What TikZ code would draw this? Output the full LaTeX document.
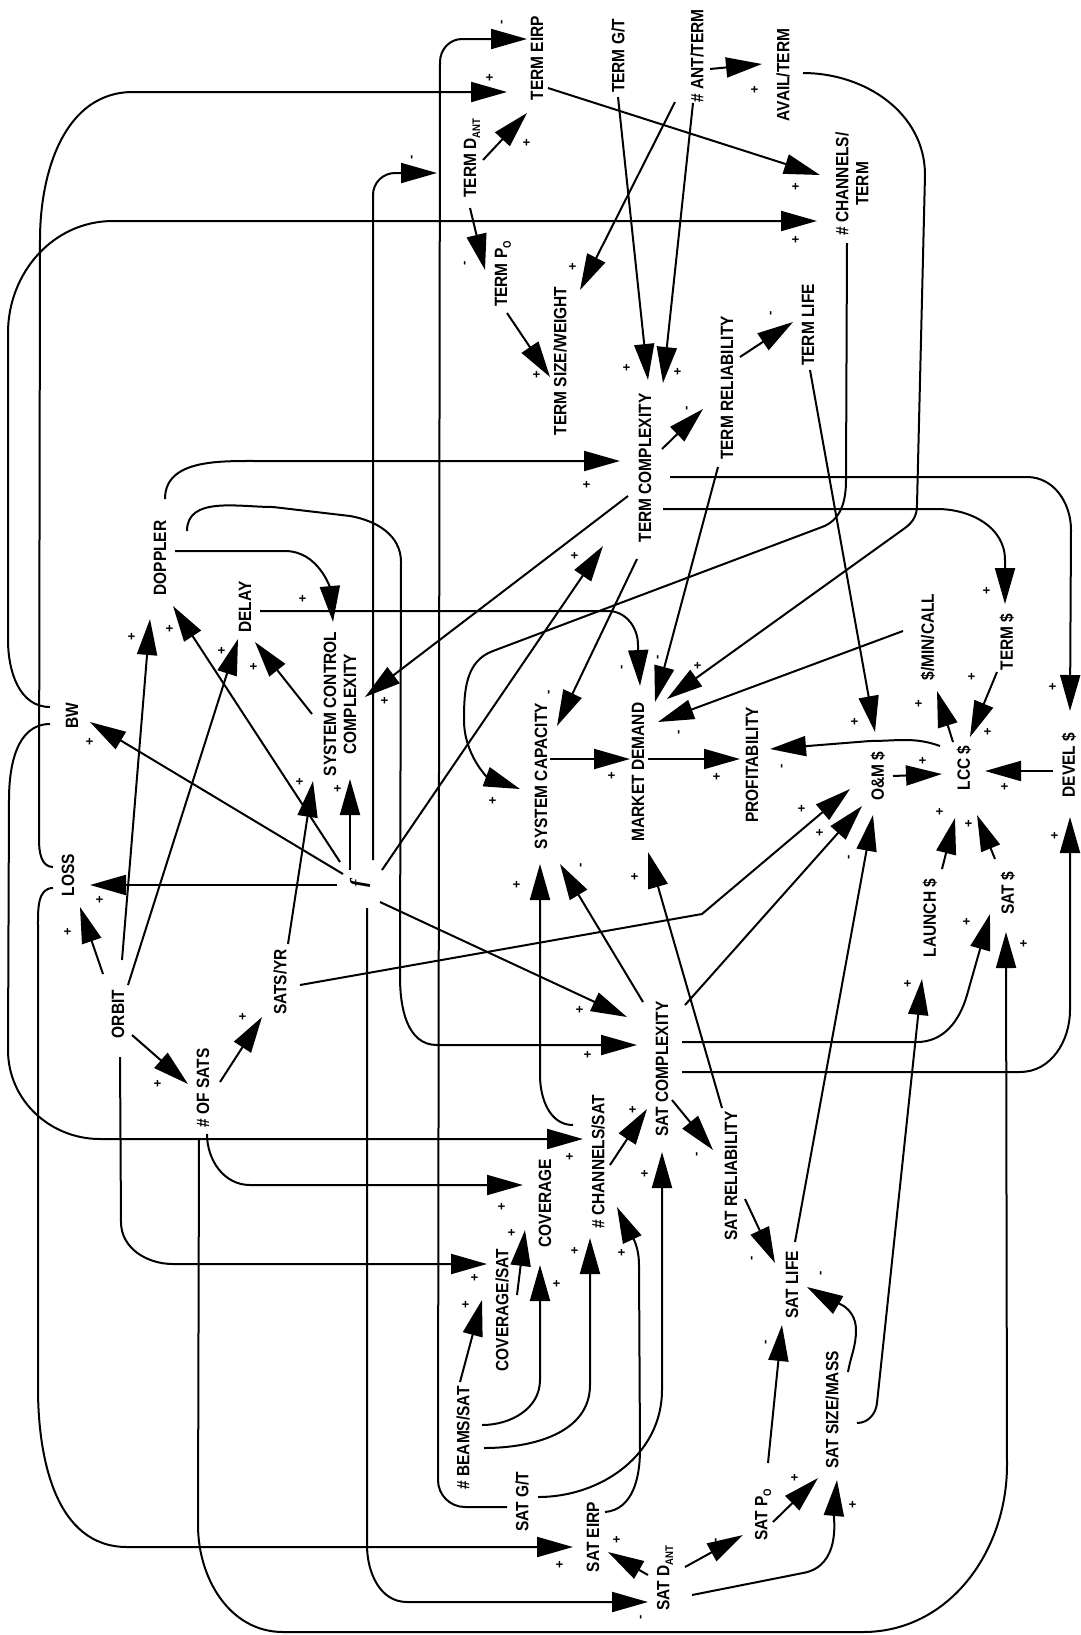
\documentclass[tikz,border=0pt]{standalone}
\usepackage{fontspec}
\setmainfont{Liberation Sans}
\newfontfamily\lblfam{Liberation Sans}[FakeStretch=0.87]
\newfontfamily\serifit{Liberation Serif}
\usetikzlibrary{arrows.meta}
\newcommand\lblfont{\lblfam\bfseries\fontsize{8.9}{10}\selectfont}
\newcommand\sgnfont{\bfseries\fontsize{6.5}{6.5}\selectfont}
\newcommand\sbx[1]{\raisebox{-0.4ex}{\fontsize{5.5}{5.5}\selectfont #1}}
\begin{document}
\begin{tikzpicture}[x=0.5pt,y=-0.5pt,
  lbl/.style={rotate=90,font=\lblfont,inner sep=1pt,align=center},
  sgn/.style={rotate=90,font=\sgnfont,inner sep=0pt},
  arr/.style={line width=1pt,-{Triangle[length=18pt,width=10pt]}}]
\fill[white] (0,0) rectangle (1081,1635);
\useasboundingbox (0,0) rectangle (1081,1635);
% ---------- nodes
\node[lbl] (teirp) at (537,58) {TERM EIRP};
\node[lbl] (tgt) at (618,56) {TERM G/T};
\node[lbl] (nant) at (697,56) {\# ANT/TERM};
\node[lbl] (avail) at (783,75) {AVAIL/TERM};
\node[lbl] (tdant) at (472,158) {TERM D\sbx{ANT}};
\node[lbl] (tpo) at (503,274) {TERM P\sbx{O}};
\node[lbl] (tsize) at (560,361) {TERM SIZE/WEIGHT};
\node[lbl] (nchterm) at (852,184) {\# CHANNELS/\\TERM};
\node[lbl] (tlife) at (808,325) {TERM LIFE};
\node[lbl] (trel) at (727,388) {TERM RELIABILITY};
\node[lbl] (tcomp) at (645,468) {TERM COMPLEXITY};
\node[lbl] (doppler) at (160,558) {DOPPLER};
\node[lbl] (delay) at (245,607) {DELAY};
\node[lbl] (scc) at (340,704) {SYSTEM CONTROL\\COMPLEXITY};
\node[lbl] (bw) at (72,716) {BW};
\node[lbl] (tdol) at (1007,642) {TERM \$};
\node[lbl] (minc) at (928,637) {\$/MIN/CALL};
\node[lbl] (syscap) at (541,776) {SYSTEM CAPACITY};
\node[lbl] (mdem) at (638,772) {MARKET DEMAND};
\node[lbl] (profit) at (752,765) {PROFITABILITY};
\node[lbl] (om) at (878,776) {O\&M \$};
\node[lbl] (lcc) at (964,768) {LCC \$};
\node[lbl] (devel) at (1069,765) {DEVEL \$};
\node[lbl] (loss) at (68,875) {LOSS};
\node[lbl,font={\serifit\bfseries\itshape\fontsize{11}{11}\selectfont}] (f) at (360,884) {f};
\node[lbl] (launch) at (930,918) {LAUNCH \$};
\node[lbl] (satdol) at (1008,893) {SAT \$};
\node[lbl] (orbit) at (118,1014) {ORBIT};
\node[lbl] (satsyr) at (280,982) {SATS/YR};
\node[lbl] (nsats) at (203,1088) {\# OF SATS};
\node[lbl] (satcomp) at (662,1069) {SAT COMPLEXITY};
\node[lbl] (nchsat) at (598,1162) {\# CHANNELS/SAT};
\node[lbl] (cov) at (545,1203) {COVERAGE};
\node[lbl] (satrel) at (731,1176) {SAT RELIABILITY};
\node[lbl] (covsat) at (502,1310) {COVERAGE/SAT};
\node[lbl] (beams) at (463,1438) {\# BEAMS/SAT};
\node[lbl] (satgt) at (522,1502) {SAT G/T};
\node[lbl] (sateirp) at (593,1537) {SAT EIRP};
\node[lbl] (satdant) at (665,1578) {SAT D\sbx{ANT}};
\node[lbl] (satpo) at (763,1515) {SAT P\sbx{O}};
\node[lbl] (satsize) at (832,1410) {SAT SIZE/MASS};
\node[lbl] (satlife) at (792,1285) {SAT LIFE};
% ---------- long loops
\draw[arr] (53,867) to[out=180,in=270] (39,840) -- (40,240) to[out=90,in=180] (133,92) -- (507,92);
\draw[arr] (50,707) to[out=180,in=270] (8,640) -- (8,333) to[out=90,in=180] (113,221) -- (817,221);
\draw[arr] (50,724) to[out=180,in=90] (9,800) -- (8,1050) to[out=270,in=180] (100,1139) -- (583,1139);
\draw[arr] (53,888) to[out=180,in=90] (38,925) -- (38,1388) to[out=270,in=180] (127,1547) -- (573,1547);
\draw[arr] (507,1507) -- (465,1507) to[out=180,in=270] (438,1480) -- (440,62) to[out=90,in=180] (462,39) -- (527,39);
\draw[arr] (373,860) -- (373,195) to[out=90,in=180] (395,173) -- (437,173);
\draw[arr] (367,908) -- (367,1545) to[out=270,in=180] (407,1602) -- (648,1602);
\draw[arr] (199,1140) -- (198,1525) to[out=270,in=180] (283,1632) -- (863,1632) to[out=0,in=270] (1007,1465) -- (1006,932);
% ---------- terminal side
\draw[arr] (483,160) -- (527,113);
\draw[arr] (470,208) -- (485,270);
\draw[arr] (507,313) -- (550,377);
\draw[arr] (675,102) -- (580,290);
\draw[arr] (618,97) -- (648,380);
\draw[arr] (693,103) -- (663,383);
\draw[arr] (710,69) -- (762,64);
\draw[arr] (548,88) -- (820,175);
\draw[arr] (847,243) -- (846,480) to[out=270,in=20] (822,527) -- (493,651) to[out=200,in=90] (464,720) to[out=270,in=160] (520,789);
\draw[arr] (803,73) to[out=0,in=90] (925,175) -- (917,505) to[out=270,in=36] (905,528) -- (667,699);
\draw[arr] (903,631) -- (658,722);
\draw[arr] (718,467) -- (655,702);
\draw[arr] (260,611) -- (608,611) to[out=0,in=90] (638,645) -- (640,686);
\draw[arr] (637,559) -- (557,726);
\draw[arr] (550,759) -- (630,759);
\draw[arr] (648,759) -- (740,759);
\draw[arr] (940,746) to[out=160,in=0] (870,741) -- (770,749);
\draw[arr] (810,370) -- (875,732);
\draw[arr] (740,357) -- (793,322);
\draw[arr] (662,449) -- (703,409);
\draw[arr] (165,499) to[out=90,in=180] (260,461) -- (620,461);
\draw[arr] (175,551) -- (285,551) to[out=0,in=95] (333,622);
\draw[arr] (187,531) to[out=90,in=180] (273,507) -- (350,516) to[out=-10,in=90] (401,562) -- (400,977) to[out=270,in=180] (437,1045) -- (637,1045);
\draw[arr] (628,496) -- (365,697);
\draw[arr] (382,870) -- (603,546);
\draw[arr] (350,870) -- (350,779);
\draw[arr] (288,944) -- (313,781);
\draw[arr] (312,714) -- (255,642);
\draw[arr] (122,960) -- (150,619);
\draw[arr] (128,985) -- (238,639);
\draw[arr] (340,862) -- (173,606);
\draw[arr] (343,874) -- (90,722);
\draw[arr] (337,885) -- (90,885);
\draw[arr] (103,974) -- (80,907);
\draw[arr] (132,1035) -- (188,1084);
\draw[arr] (220,1082) -- (262,1017);
% ---------- costs
\draw[arr] (300,985) -- (702,914) -- (850,789);
\draw[arr] (685,1005) -- (862,806);
\draw[arr] (682,1042) -- (917,1042) to[out=0,in=254] (967,995) -- (990,914);
\draw[arr] (682,1072) -- (1020,1072) to[out=0,in=270] (1070,1010) -- (1070,817);
\draw[arr] (857,1423) to[out=0,in=264] (877,1403) -- (922,979);
\draw[arr] (942,869) -- (955,818);
\draw[arr] (995,859) -- (977,815);
\draw[arr] (893,776) -- (942,774);
\draw[arr] (953,742) -- (937,691);
\draw[arr] (997,672) -- (970,737);
\draw[arr] (663,509) -- (937,509) to[out=0,in=90] (1005,560) -- (1005,604);
\draw[arr] (670,477) -- (1027,477) to[out=0,in=90] (1071,530) -- (1070,711);
\draw[arr] (1053,771) -- (985,771);
% ---------- satellite side
\draw[arr] (795,1242) -- (873,815);
\draw[arr] (745,1199) -- (775,1263);
\draw[arr] (848,1372) to[out=80,in=270] (856,1330) to[out=90,in=-30] (807,1287);
\draw[arr] (768,1463) -- (782,1325);
\draw[arr] (773,1522) -- (818,1478);
\draw[arr] (692,1595) -- (803,1573) to[out=10,in=265] (837,1480);
\draw[arr] (685,1567) -- (743,1535);
\draw[arr] (648,1575) -- (608,1552);
\draw[arr] (672,1100) -- (713,1150);
\draw[arr] (643,1002) -- (560,864);
\draw[arr] (573,1125) to[out=180,in=270] (540,1075) -- (540,864);
\draw[arr] (722,1108) -- (648,852);
\draw[arr] (380,902) -- (627,1017);
\draw[arr] (610,1165) -- (647,1109);
\draw[arr] (538,1497) to[out=0,in=270] (662,1390) -- (662,1152);
\draw[arr] (605,1512) to[out=5,in=270] (640,1450) -- (639,1265) to[out=90,in=-65] (617,1207);
\draw[arr] (460,1382) -- (482,1300);
\draw[arr] (482,1425) to[out=0,in=270] (540,1380) -- (540,1265);
\draw[arr] (484,1448) to[out=0,in=270] (590,1385) -- (590,1238);
\draw[arr] (517,1295) -- (525,1230);
\draw[arr] (207,1134) to[out=270,in=180] (250,1185) -- (523,1185);
\draw[arr] (120,1057) -- (121,1222) to[out=270,in=180] (173,1264) -- (487,1264);
% ---------- signs
\foreach \x/\y/\c [count=\i] in {
 490/78/+, 503/22/-, 527/143/+, 413/157/-, 466/263/-, 537/375/+, 573/267/+,
 627/368/+, 678/372/+, 688/408/-, 755/90/+, 796/187/+, 796/240/+, 772/313/-,
 587/485/+, 575/556/+, 303/599/+, 385/701/+, 550/692/-, 623/667/-, 659/657/-,
 698/666/+, 680/732/-, 493/801/+, 612/776/+, 717/777/+, 783/766/-, 855/722/+,
 923/761/+, 919/704/+, 972/677/+, 988/732/+, 987/591/+, 1053/687/+, 1005/787/+,
 170/629/+, 132/637/+, 222/651/+, 254/667/+, 300/782/+, 338/789/+, 90/742/+,
 100/900/+, 68/932/+, 158/1084/+, 243/1017/+, 802/809/+, 820/833/+, 850/857/-,
 940/812/+, 969/824/+, 967/922/+, 1024/944/+, 1055/836/+, 908/984/+, 517/885/+,
 582/865/-, 635/877/+, 580/1010/+, 588/1055/+, 633/1110/+, 645/1174/+, 698/1154/-,
 570/1157/+, 502/1207/+, 512/1233/+, 557/1284/+, 575/1251/+, 622/1253/+, 466/1305/+,
 475/1278/+, 753/1258/-, 822/1273/-, 767/1342/-, 795/1478/+, 853/1505/+, 717/1540/-,
 617/1540/+, 560/1565/+, 642/1617/-}
 \node[sgn] (s\i) at (\x,\y) {\c};
\end{tikzpicture}
\end{document}
